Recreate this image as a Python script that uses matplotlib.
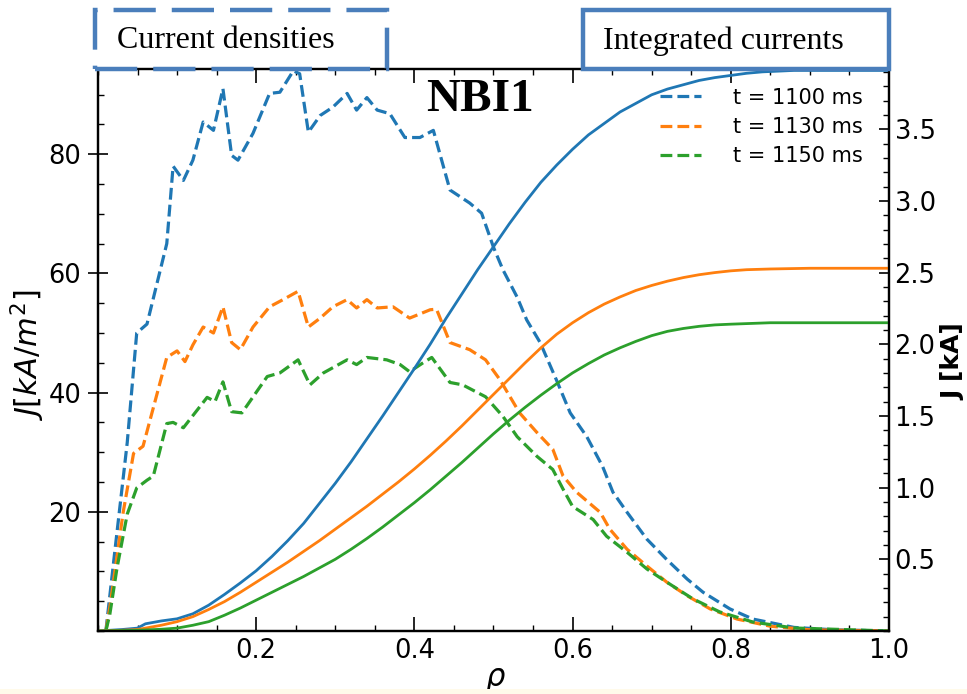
import numpy as np
import matplotlib
matplotlib.use('Agg')
import matplotlib.pyplot as plt
from matplotlib.patches import Rectangle
from matplotlib.ticker import MultipleLocator

# Current density profiles J(rho) [kA/m^2]
rho_j1100 = [0.01, 0.021, 0.037, 0.049, 0.062, 0.087, 0.095, 0.108, 0.12, 0.133, 0.146, 0.158,
             0.169, 0.177, 0.196, 0.217, 0.230, 0.247, 0.255, 0.266, 0.281, 0.297, 0.315, 0.327,
             0.340, 0.353, 0.369, 0.388, 0.407, 0.424, 0.445, 0.47, 0.485, 0.5, 0.512, 0.53,
             0.542, 0.559, 0.58, 0.597, 0.618, 0.638, 0.651, 0.669, 0.694, 0.719, 0.745, 0.765,
             0.799, 0.828, 0.88, 0.93, 1.0]
j1100 = [0, 13, 31.6, 50, 51.5, 65, 78, 75.6, 79, 85.4, 84, 91,
         79.8, 79, 83.5, 90.2, 90.4, 94, 93.5, 83.7, 86.5, 87.9, 90.2, 87.4,
         89.5, 87.4, 86.8, 82.8, 82.8, 84, 74, 71.8, 70.1, 64.4, 60.6, 56,
         52.2, 48.4, 42, 36.6, 32.6, 27.6, 23.3, 19.9, 15.4, 12, 8.7, 6.5,
         3.7, 2, 0.6, 0.2, 0]

rho_j1130 = [0.01, 0.015, 0.032, 0.045, 0.057, 0.087, 0.1, 0.11, 0.12, 0.133, 0.146, 0.158,
             0.169, 0.18, 0.196, 0.217, 0.234, 0.253, 0.266, 0.281, 0.297, 0.315, 0.327, 0.340,
             0.353, 0.373, 0.394, 0.42, 0.428, 0.445, 0.47, 0.49, 0.508, 0.533, 0.555, 0.575,
             0.588, 0.605, 0.635, 0.647, 0.669, 0.694, 0.719, 0.745, 0.774, 0.808, 0.85, 0.9, 1.0]
j1130 = [0, 4, 20, 29.8, 31, 45.9, 47, 45.2, 48, 51, 50, 54.4,
         48.4, 47.2, 51, 54.4, 55.6, 57, 51, 52.5, 54.4, 55.6, 54.2, 55.6,
         54.2, 54.4, 52.5, 53.9, 54, 48.4, 47.2, 45.5, 42.2, 36.6, 33.3, 30.5,
         26, 23.3, 19.9, 17.1, 13.7, 10.9, 8.2, 5.9, 3.7, 2, 0.8, 0.2, 0]

rho_j1150 = [0.01, 0.015, 0.024, 0.037, 0.049, 0.062, 0.070, 0.087, 0.095, 0.108, 0.138, 0.148,
             0.158, 0.169, 0.182, 0.214, 0.230, 0.253, 0.268, 0.285, 0.315, 0.327, 0.340, 0.365,
             0.382, 0.394, 0.411, 0.422, 0.445, 0.461, 0.49, 0.512, 0.53, 0.555, 0.575, 0.588,
             0.600, 0.626, 0.643, 0.669, 0.694, 0.719, 0.752, 0.786, 0.828, 0.88, 1.0]
j1150 = [0, 2.8, 10.5, 19.6, 24, 25.3, 26, 34.8, 35, 34.1, 39.2, 38.5,
         41.8, 36.8, 36.6, 42.7, 43.3, 45.5, 41.3, 43.3, 45.5, 44.7, 45.9, 45.5,
         44.7, 43.5, 45, 45.9, 41.7, 41.3, 39.3, 36, 32.6, 29.3, 27.1, 23.8,
         20.9, 18.7, 15.9, 13.2, 10.4, 8.2, 5.4, 3.2, 1.5, 0.5, 0]

# Integrated currents I(rho) [kA]
rho_i1100 = [0, 0.03, 0.05, 0.06, 0.08, 0.1, 0.12, 0.14, 0.16, 0.18, 0.2, 0.22, 0.24, 0.26,
             0.28, 0.3, 0.32, 0.34, 0.36, 0.38, 0.4, 0.42, 0.44, 0.46, 0.48, 0.5, 0.52, 0.54,
             0.56, 0.58, 0.6, 0.62, 0.64, 0.66, 0.68, 0.7, 0.72, 0.74, 0.76, 0.78, 0.8, 0.82,
             0.84, 0.86, 0.88, 0.9, 1.0]
i1100 = [0, 0.01, 0.02, 0.05, 0.07, 0.085, 0.12, 0.18, 0.255, 0.335, 0.42, 0.52, 0.63, 0.75,
         0.89, 1.03, 1.18, 1.34, 1.5, 1.665, 1.83, 2.0, 2.18, 2.35, 2.52, 2.68, 2.84, 2.99,
         3.13, 3.25, 3.36, 3.46, 3.54, 3.62, 3.68, 3.74, 3.78, 3.81, 3.84, 3.86, 3.875, 3.89,
         3.9, 3.905, 3.91, 3.91, 3.91]

rho_i1130 = [0, 0.03, 0.05, 0.08, 0.1, 0.12, 0.14, 0.16, 0.18, 0.2, 0.22, 0.24, 0.26, 0.28,
             0.3, 0.32, 0.34, 0.36, 0.38, 0.4, 0.42, 0.44, 0.46, 0.48, 0.5, 0.52, 0.54, 0.56,
             0.58, 0.6, 0.62, 0.64, 0.66, 0.68, 0.7, 0.72, 0.74, 0.76, 0.78, 0.8, 0.82, 0.85,
             0.9, 1.0]
i1130 = [0, 0.005, 0.01, 0.04, 0.065, 0.1, 0.15, 0.205, 0.27, 0.34, 0.41, 0.48, 0.555, 0.63,
         0.71, 0.79, 0.87, 0.955, 1.04, 1.13, 1.225, 1.325, 1.43, 1.54, 1.65, 1.76, 1.87, 1.975,
         2.07, 2.15, 2.22, 2.28, 2.33, 2.375, 2.41, 2.44, 2.465, 2.485, 2.5, 2.512, 2.52, 2.525,
         2.53, 2.53]

rho_i1150 = [0, 0.05, 0.08, 0.1, 0.12, 0.14, 0.16, 0.18, 0.2, 0.22, 0.24, 0.26, 0.28, 0.3,
             0.32, 0.34, 0.36, 0.38, 0.4, 0.42, 0.44, 0.46, 0.48, 0.5, 0.52, 0.54, 0.56, 0.58,
             0.6, 0.62, 0.64, 0.66, 0.68, 0.7, 0.72, 0.74, 0.76, 0.78, 0.8, 0.85, 1.0]
i1150 = [0, 0.005, 0.012, 0.02, 0.04, 0.065, 0.11, 0.16, 0.215, 0.27, 0.325, 0.38, 0.44, 0.5,
         0.57, 0.645, 0.725, 0.81, 0.895, 0.985, 1.08, 1.175, 1.275, 1.375, 1.47, 1.56, 1.645, 1.725,
         1.8, 1.865, 1.925, 1.975, 2.02, 2.06, 2.09, 2.11, 2.125, 2.135, 2.14, 2.15, 2.15]

labels = ['t = 1100 ms', 't = 1130 ms', 't = 1150 ms']
colors = ['#1f77b4', '#ff7f0e', '#2ca02c']

fig = plt.figure(figsize=(9.67, 6.94), dpi=100)
ax = fig.add_axes([0.1013, 0.0908, 0.818, 0.8098])
ax2 = ax.twinx()

dens = [(rho_j1100, j1100), (rho_j1130, j1130), (rho_j1150, j1150)]
ints = [(rho_i1100, i1100), (rho_i1130, i1130), (rho_i1150, i1150)]

handles = []
for (r, j), lab, c in zip(dens, labels, colors):
    h, = ax.plot(r, j, '--', color=c, lw=2.3, label=lab)
    handles.append(h)
for (r, i), c in zip(ints, colors):
    ax2.plot(r, i, '-', color=c, lw=2.0)

ax.set_xlim(0, 1.0)
ax.set_ylim(0, 94.3)
ax2.set_ylim(0, 3.92)

ax.set_xticks([0.2, 0.4, 0.6, 0.8, 1.0])
ax.xaxis.set_minor_locator(MultipleLocator(0.05))
ax.set_yticks([20, 40, 60, 80])
ax.yaxis.set_minor_locator(MultipleLocator(5))
ax2.set_yticks([0.5, 1.0, 1.5, 2.0, 2.5, 3.0, 3.5])
ax2.yaxis.set_minor_locator(MultipleLocator(0.1))

ax.tick_params(axis='both', which='major', direction='in', length=10, width=1.2,
               labelsize=18.5, top=True, pad=5)
ax.tick_params(axis='both', which='minor', direction='in', length=4, width=1, top=True)
ax.tick_params(axis='y', which='major', direction='inout', length=14)
ax2.tick_params(axis='y', which='major', direction='in', length=7, width=1.2,
                labelsize=18.5, pad=4)
ax2.tick_params(axis='y', which='minor', direction='in', length=4, width=1)

for a in (ax, ax2):
    for s in a.spines.values():
        s.set_linewidth(1.6)

ax.set_xlabel(r'$\rho$', fontsize=22)
ax.xaxis.set_label_coords(0.502, -0.062)
ax.set_ylabel(r'$J[kA/m^2]$', fontsize=22)
ax.yaxis.set_label_coords(-0.064, 0.49)
ax2.set_ylabel('J [kA]', fontsize=18, fontweight='bold')
ax2.yaxis.set_label_coords(1.066, 0.48)

ax2.legend(handles=handles, loc='upper right', frameon=False, fontsize=15,
           handlelength=2.0, handletextpad=1.5, labelspacing=0.45,
           bbox_to_anchor=(0.99, 1.0))

ax.text(0.483, 0.945, 'NBI1', transform=ax.transAxes, ha='center', va='center',
        fontsize=34, fontweight='bold', family='Liberation Serif', zorder=10)

# header boxes above the axes, placed in figure pixel units
W, H = 967.0, 694.0
box_col = '#4a7ebb'
fig.patches.append(Rectangle((95 / W, 1 - 69 / H), 292 / W, 59 / H, transform=fig.transFigure,
                             fill=False, edgecolor=box_col, lw=3.2, linestyle=(0, (9.5, 3.6))))
fig.patches.append(Rectangle((583 / W, 1 - 69 / H), 306 / W, 59 / H, transform=fig.transFigure,
                             fill=False, edgecolor=box_col, lw=3.2))
fig.text(117 / W, 1 - 41 / H, 'Current densities', family='Liberation Serif', fontsize=23,
         va='center', ha='left')
fig.text(603 / W, 1 - 41 / H, 'Integrated currents', family='Liberation Serif', fontsize=23,
         va='center', ha='left')

# pale strip along the bottom edge
fig.patches.append(Rectangle((0, 0), 1, 5 / H, transform=fig.transFigure,
                             facecolor='#fffaea', edgecolor='none'))

fig.savefig('out.png', dpi=100)
